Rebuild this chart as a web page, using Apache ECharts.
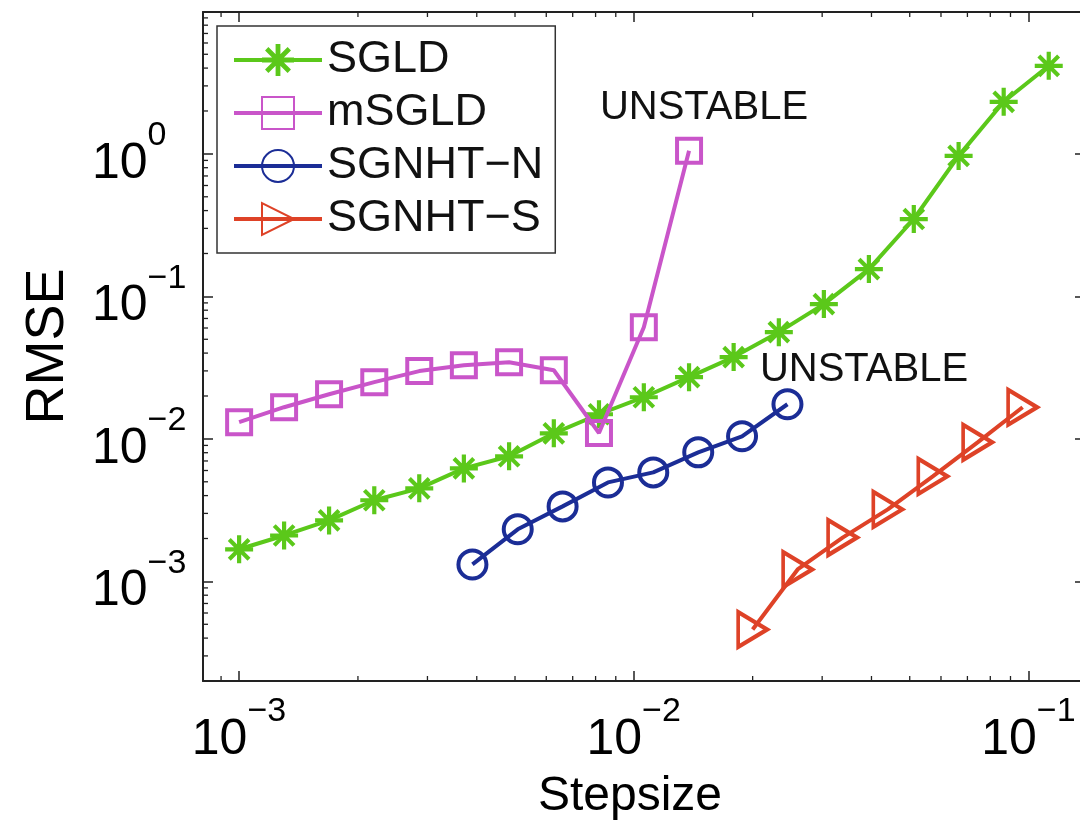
<!DOCTYPE html>
<html><head><meta charset="utf-8">
<script src="https://cdn.jsdelivr.net/npm/echarts@6/dist/echarts.min.js"></script>
<style>html,body{margin:0;padding:0;background:#fff}#c{width:1080px;height:823px}</style>
</head><body><div id="c"></div>
<script>
// ---- data ----
const seriesNames = ['SGLD', 'mSGLD', 'SGNHT\u2212N', 'SGNHT\u2212S'];
const stepSGLD = [0.001, 0.0013, 0.00169, 0.0022, 0.00286, 0.00371, 0.00483, 0.00627, 0.00816, 0.0106, 0.0138, 0.0179, 0.0233, 0.0303, 0.0394, 0.0512, 0.0665, 0.0865, 0.1125];
const rmseSGLD = [0.00168, 0.0021, 0.00268, 0.00371, 0.0045, 0.00621, 0.00755, 0.01094, 0.01489, 0.0196, 0.0271, 0.0375, 0.0561, 0.0883, 0.1555, 0.349, 0.968, 2.32, 4.15];
const stepMSGLD = [0.001, 0.0013, 0.00169, 0.0022, 0.00286, 0.00371, 0.00483, 0.00627, 0.00816, 0.0106, 0.0138];
const rmseMSGLD = [0.01309, 0.01668, 0.02057, 0.025, 0.0299, 0.0329, 0.0345, 0.0303, 0.0110, 0.0608, 1.05];
const stepSGNHTN = [0.0039, 0.00508, 0.0066, 0.0086, 0.0112, 0.01456, 0.0188, 0.0245];
const rmseSGNHTN = [0.001315, 0.00232, 0.00336, 0.00495, 0.00582, 0.00805, 0.01043, 0.0175];
const stepSGNHTS = [0.02, 0.026, 0.0338, 0.044, 0.0572, 0.0743, 0.0966];
const rmseSGNHTS = [0.00046, 0.001213, 0.00203, 0.0032, 0.00546, 0.00946, 0.01668];
const xTickExponents = [-3, -2, -1];
const yTickExponents = [-3, -2, -1, 0];
const annotations = ['UNSTABLE', 'UNSTABLE'];

// ---- styling ----
const FONT = 'Liberation Sans, Arial, Helvetica, sans-serif';
const colors = ['#5bc81a', '#c955c9', '#1b2d96', '#de4227'];
const xMin = 8.1e-4, xMax = 0.139, yMin = 2e-4, yMax = 9.9;
const LW = 4;
const asterisk = 'path://M0 8.5L20 8.5L20 11.5L0 11.5Z M8.5 0L11.5 0L11.5 20L8.5 20Z M4 1.9L18.1 16L16 18.1L1.9 4Z M16 1.9L18.1 4L4 18.1L1.9 16Z';

function pairs(xs, ys) { return xs.map((x, i) => [x, ys[i]]); }
function expLabel(list) {
  return function (v) {
    const e = Math.log10(v);
    const r = Math.round(e);
    if (Math.abs(e - r) > 1e-6 || list.indexOf(r) < 0) return '';
    const s = r < 0 ? '\u2212' + (-r) : String(r);
    return '{b|10}{s|' + s + '}{p| }';
  };
}
const richTick = {
  b: { fontSize: 50, fontFamily: FONT, color: '#000', lineHeight: 60, verticalAlign: 'bottom' },
  s: { fontSize: 34, fontFamily: FONT, color: '#000', lineHeight: 20, verticalAlign: 'top' },
  p: { fontSize: 1, fontFamily: FONT, lineHeight: 70, verticalAlign: 'top' }
};

// minor tick positions (2..9 x 10^k) used only as axis decoration
const minorX = [], minorY = [];
for (let k = -5; k <= 1; k++) {
  for (let m = 2; m <= 9; m++) {
    const v = m * Math.pow(10, k);
    if (v > xMin && v < xMax) minorX.push([v, yMin]);
    if (v > yMin && v < yMax) minorY.push([xMin, v]);
  }
}
const tickStyle = { stroke: '#222', lineWidth: 1.3 };
function minorXRender(params, api) {
  const cs = params.coordSys;
  const p = api.coord([api.value(0), api.value(1)]);
  const b = cs.y + cs.height;
  return { type: 'group', children: [
    { type: 'line', shape: { x1: p[0], y1: b, x2: p[0], y2: b - 5 }, style: tickStyle },
    { type: 'line', shape: { x1: p[0], y1: cs.y, x2: p[0], y2: cs.y + 5 }, style: tickStyle }
  ] };
}
function minorYRender(params, api) {
  const cs = params.coordSys;
  const p = api.coord([api.value(0), api.value(1)]);
  const r = cs.x + cs.width;
  return { type: 'group', children: [
    { type: 'line', shape: { x1: cs.x, y1: p[1], x2: cs.x + 5, y2: p[1] }, style: tickStyle },
    { type: 'line', shape: { x1: r, y1: p[1], x2: r - 5, y2: p[1] }, style: tickStyle }
  ] };
}

const axisLineStyle = { color: '#222', width: 2 };
const majorTick = { show: true, inside: true, length: 10, lineStyle: { color: '#222', width: 1.5 } };

const chart = echarts.init(document.getElementById('c'), null, { renderer: 'canvas' });
chart.setOption({
  animation: false,
  backgroundColor: '#fff',
  grid: { left: 203, top: 12, right: -5, bottom: 142, containLabel: false, outerBoundsMode: 'none' },
  xAxis: [
    { type: 'log', logBase: 10, min: xMin, max: xMax, position: 'bottom',
      axisLine: { show: true, lineStyle: axisLineStyle }, axisTick: majorTick,
      splitLine: { show: false }, minorTick: { show: false },
      axisLabel: { formatter: expLabel(xTickExponents), rich: richTick, margin: 14, showMinLabel: false, showMaxLabel: false },
      name: 'Stepsize', nameLocation: 'middle', nameGap: 92,
      nameTextStyle: { fontSize: 48, fontFamily: FONT, color: '#000', padding: [0, 28, 0, 0] } },
    { type: 'log', logBase: 10, min: xMin, max: xMax, position: 'top',
      axisLine: { show: true, lineStyle: axisLineStyle }, axisTick: majorTick,
      splitLine: { show: false }, axisLabel: { show: false } }
  ],
  yAxis: [
    { type: 'log', logBase: 10, min: yMin, max: yMax, position: 'left',
      axisLine: { show: true, lineStyle: axisLineStyle }, axisTick: majorTick,
      splitLine: { show: false },
      axisLabel: { formatter: expLabel(yTickExponents), rich: richTick, margin: 111, align: 'left', showMinLabel: false, showMaxLabel: false },
      name: 'RMSE', nameLocation: 'middle', nameGap: 128, nameRotate: 90,
      nameTextStyle: { fontSize: 54, fontFamily: FONT, color: '#000' } },
    { type: 'log', logBase: 10, min: yMin, max: yMax, position: 'right',
      axisLine: { show: true, lineStyle: axisLineStyle }, axisTick: majorTick,
      splitLine: { show: false }, axisLabel: { show: false } }
  ],
  legend: {
    data: seriesNames,
    orient: 'vertical', left: 217, top: 26,
    itemWidth: 88, itemHeight: 40, itemGap: 7,
    padding: [11, 12, 11, 15],
    backgroundColor: '#fff', borderColor: '#333', borderWidth: 1.5, borderRadius: 0,
    lineStyle: { width: LW },
    textStyle: { fontSize: 45, fontFamily: FONT, color: '#111', lineHeight: 46 }
  },
  series: [
    { type: 'custom', name: 'minorX', silent: true, z: 1, renderItem: minorXRender, data: minorX },
    { type: 'custom', name: 'minorY', silent: true, z: 1, renderItem: minorYRender, data: minorY },
    { type: 'line', name: seriesNames[0], data: pairs(stepSGLD, rmseSGLD), z: 3,
      symbol: asterisk, symbolSize: 28, showAllSymbol: true,
      lineStyle: { color: colors[0], width: LW },
      itemStyle: { color: colors[0], borderWidth: 0 } },
    { type: 'line', name: seriesNames[1], data: pairs(stepMSGLD, rmseMSGLD), z: 4,
      symbol: 'rect', symbolSize: 24, showAllSymbol: true,
      lineStyle: { color: colors[1], width: LW },
      itemStyle: { color: 'rgba(255,255,255,0)', borderColor: colors[1], borderWidth: LW } },
    { type: 'line', name: seriesNames[2], data: pairs(stepSGNHTN, rmseSGNHTN), z: 5,
      symbol: 'circle', symbolSize: 28, showAllSymbol: true,
      lineStyle: { color: colors[2], width: LW },
      itemStyle: { color: 'rgba(255,255,255,0)', borderColor: colors[2], borderWidth: LW } },
    { type: 'line', name: seriesNames[3], data: pairs(stepSGNHTS, rmseSGNHTS), z: 6,
      symbol: 'triangle', symbolSize: [35, 29], symbolRotate: -90, showAllSymbol: true,
      lineStyle: { color: colors[3], width: LW },
      itemStyle: { color: 'rgba(255,255,255,0)', borderColor: colors[3], borderWidth: LW } }
  ],
  graphic: [
    { type: 'text', x: 704, y: 108, z: 100,
      style: { text: annotations[0], font: '40px ' + FONT, fill: '#111', align: 'center', verticalAlign: 'middle' } },
    { type: 'text', x: 864, y: 370, z: 100,
      style: { text: annotations[1], font: '40px ' + FONT, fill: '#111', align: 'center', verticalAlign: 'middle' } }
  ]
});
</script></body></html>
